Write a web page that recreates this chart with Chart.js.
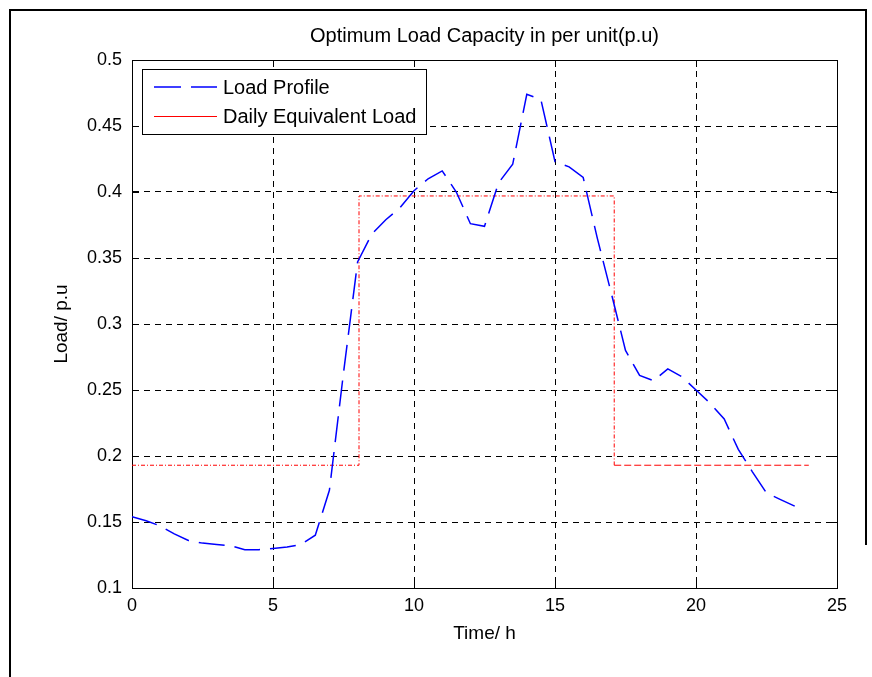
<!DOCTYPE html>
<html>
<head>
<meta charset="utf-8">
<title>Optimum Load Capacity</title>
<script src="https://cdn.jsdelivr.net/npm/chart.js@4.4.1/dist/chart.umd.min.js"></script>
<style>
    html, body { margin: 0; padding: 0; background: #fff; }
    #wrap { width: 872px; height: 677px; }
</style>
</head>
<body>
<div id="wrap"><canvas id="loadChart" width="872" height="677"></canvas></div>
<script>
// time of day, half-hour steps
const hours = [0, 0.5, 1, 1.5, 2, 2.5, 3, 3.5, 4, 4.5, 5, 5.5, 6, 6.5, 7, 7.5,
    8, 8.5, 9, 9.5, 10, 10.5, 11, 11.5, 12, 12.5, 13, 13.5, 14, 14.5, 15, 15.5,
    16, 16.5, 17, 17.5, 18, 18.5, 19, 19.5, 20, 20.5, 21, 21.5, 22, 22.5, 23, 23.5];

// load profile in p.u
const loadProfile = [0.154, 0.151, 0.147, 0.141, 0.136, 0.134, 0.133, 0.132, 0.129, 0.129, 0.130, 0.131, 0.133, 0.140, 0.174, 0.263,
    0.347, 0.368, 0.379, 0.388, 0.401, 0.410, 0.416, 0.400, 0.376, 0.374, 0.407, 0.421, 0.474, 0.470, 0.423, 0.419,
    0.411, 0.365, 0.323, 0.280, 0.261, 0.257, 0.266, 0.260, 0.250, 0.240, 0.228, 0.205, 0.188, 0.172, 0.167, 0.162];

// daily equivalent load (step)
const stepHours = [0, 8.05, 8.05, 17.1, 17.1, 24];
const stepLoad = [0.193, 0.193, 0.397, 0.397, 0.193, 0.193];

const xTicks = [0, 5, 10, 15, 20, 25];
const yTicks = [0.1, 0.15, 0.2, 0.25, 0.3, 0.35, 0.4, 0.45, 0.5];

const FAMILY = "'Liberation Sans', Arial, sans-serif";

document.addEventListener('DOMContentLoaded', function () {

    const toPoints = function (xs, ys) {
        return xs.map(function (x, i) { return { x: x, y: ys[i] }; });
    };

    // white page + the black frame round the figure
    const framePlugin = {
        id: 'frame',
        beforeDraw: function (chart) {
            const ctx = chart.ctx;
            ctx.save();
            ctx.fillStyle = '#fff';
            ctx.fillRect(0, 0, chart.width, chart.height);
            ctx.strokeStyle = '#000';
            ctx.lineWidth = 2;
            ctx.beginPath();
            ctx.moveTo(10, chart.height);
            ctx.lineTo(10, 10);
            ctx.lineTo(866, 10);
            ctx.lineTo(866, 545);
            ctx.stroke();
            ctx.restore();
        }
    };

    // small inward tick marks on all four sides, matlab style
    const tickPlugin = {
        id: 'innerTicks',
        afterDraw: function (chart) {
            const ctx = chart.ctx;
            const a = chart.chartArea;
            const len = 7;
            ctx.save();
            ctx.strokeStyle = '#000';
            ctx.lineWidth = 1;
            ctx.beginPath();
            xTicks.forEach(function (v) {
                const px = Math.round(chart.scales.x.getPixelForValue(v)) + 0.5;
                ctx.moveTo(px, a.bottom); ctx.lineTo(px, a.bottom - len);
                ctx.moveTo(px, a.top); ctx.lineTo(px, a.top + len);
            });
            yTicks.forEach(function (v) {
                const py = Math.round(chart.scales.y.getPixelForValue(v)) + 0.5;
                ctx.moveTo(a.left, py); ctx.lineTo(a.left + len, py);
                ctx.moveTo(a.right, py); ctx.lineTo(a.right - len, py);
            });
            ctx.stroke();
            ctx.restore();
        }
    };

    // legend box inside the plot, top left
    const legendPlugin = {
        id: 'boxLegend',
        afterDraw: function (chart) {
            const ctx = chart.ctx;
            const ds = chart.data.datasets;
            ctx.save();
            ctx.fillStyle = '#fff';
            ctx.fillRect(142.5, 69.5, 284, 65);
            ctx.strokeStyle = '#000';
            ctx.lineWidth = 1;
            ctx.strokeRect(142.5, 69.5, 284, 65);

            ctx.strokeStyle = ds[0].borderColor;
            ctx.lineWidth = ds[0].borderWidth;
            ctx.setLineDash([27, 10]);
            ctx.beginPath();
            ctx.moveTo(154, 87); ctx.lineTo(217, 87);
            ctx.stroke();

            ctx.strokeStyle = ds[1].borderColor;
            ctx.lineWidth = 1.2;
            ctx.setLineDash([]);
            ctx.beginPath();
            ctx.moveTo(154, 116.5); ctx.lineTo(217, 116.5);
            ctx.stroke();

            ctx.fillStyle = '#000';
            ctx.font = '20px ' + FAMILY;
            ctx.textBaseline = 'middle';
            ctx.textAlign = 'left';
            ctx.fillText(ds[0].label, 223, 88);
            ctx.fillText(ds[1].label, 223, 117);
            ctx.restore();
        }
    };

    const gridStyle = { color: '#000', lineWidth: 1, drawTicks: false };
    const borderStyle = { display: true, color: '#000', width: 1, dash: [6, 5] };

    const ctx = document.getElementById('loadChart').getContext('2d');
    const loadChart = new Chart(ctx, {
        type: 'line',
        data: {
            datasets: [
                {
                    label: 'Load Profile',
                    data: toPoints(hours, loadProfile),
                    borderColor: '#0000ff',
                    borderWidth: 1.5,
                    borderDash: [26, 10],
                    pointRadius: 0,
                    tension: 0,
                    fill: false
                },
                {
                    label: 'Daily Equivalent Load',
                    data: toPoints(stepHours, stepLoad),
                    borderColor: '#ff0000',
                    borderWidth: 1,
                    borderDash: [4, 2, 1, 2],
                    pointRadius: 0,
                    tension: 0,
                    fill: false,
                    segment: {
                        borderDash: function (c) { return c.p0DataIndex === 4 ? [7, 3] : undefined; }
                    }
                }
            ]
        },
        options: {
            responsive: false,
            animation: false,
            events: [],
            layout: { padding: 0 },
            plugins: {
                legend: { display: false },
                title: { display: false },
                tooltip: { enabled: false }
            },
            scales: {
                x: {
                    type: 'linear',
                    position: 'bottom',
                    min: 0,
                    max: 25,
                    afterBuildTicks: function (s) { s.ticks = xTicks.map(function (v) { return { value: v }; }); },
                    ticks: { color: '#000', padding: 7, maxRotation: 0, font: { family: FAMILY, size: 18 } },
                    grid: gridStyle,
                    border: borderStyle,
                    title: {
                        display: true,
                        text: 'Time/ h',
                        color: '#000',
                        font: { family: FAMILY, size: 19 },
                        padding: { top: 0, bottom: 32 }
                    },
                    afterFit: function (s) { s.height = 89; }
                },
                x2: {
                    type: 'linear',
                    position: 'top',
                    min: 0,
                    max: 25,
                    ticks: { display: false },
                    grid: { display: false },
                    border: { display: true, color: '#000', width: 1 },
                    title: {
                        display: true,
                        text: 'Optimum Load Capacity in per unit(p.u)',
                        color: '#000',
                        font: { family: FAMILY, size: 20 },
                        padding: { top: 24, bottom: 0 }
                    },
                    afterFit: function (s) { s.height = 60; }
                },
                y: {
                    type: 'linear',
                    position: 'left',
                    min: 0.1,
                    max: 0.5,
                    afterBuildTicks: function (s) { s.ticks = yTicks.map(function (v) { return { value: v }; }); },
                    ticks: {
                        color: '#000',
                        padding: 10,
                        font: { family: FAMILY, size: 18 },
                        callback: function (v) { return String(parseFloat(v.toFixed(2))); }
                    },
                    grid: gridStyle,
                    border: borderStyle,
                    title: {
                        display: true,
                        text: 'Load/ p.u',
                        color: '#000',
                        font: { family: FAMILY, size: 19 },
                        padding: { top: 50, bottom: 0 }
                    },
                    afterFit: function (s) { s.width = 132; }
                },
                y2: {
                    type: 'linear',
                    position: 'right',
                    min: 0.1,
                    max: 0.5,
                    ticks: { display: false },
                    grid: { display: false },
                    border: { display: true, color: '#000', width: 1 },
                    afterFit: function (s) { s.width = 35; }
                }
            }
        },
        plugins: [framePlugin, tickPlugin, legendPlugin]
    });
});
</script>
</body>
</html>
